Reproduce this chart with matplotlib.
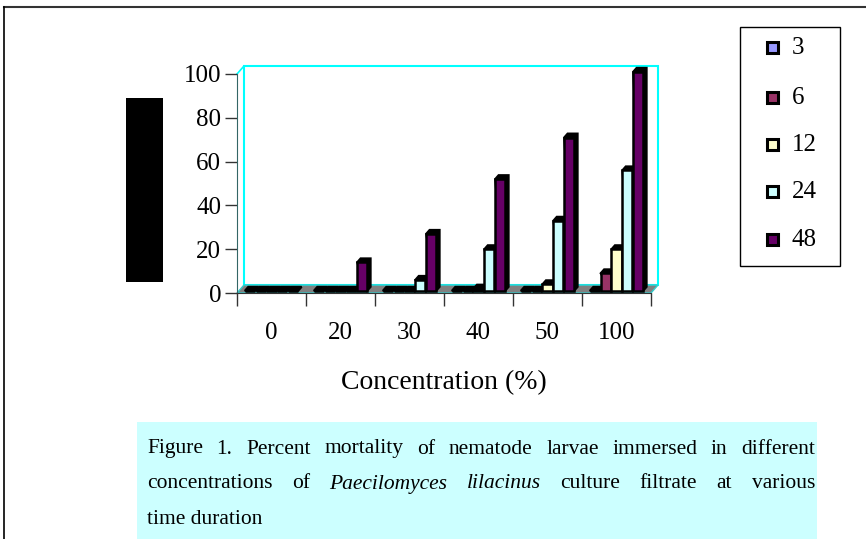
import numpy as np
import matplotlib.pyplot as plt
from matplotlib.patches import Rectangle, Polygon
from matplotlib.lines import Line2D

plt.rcParams['font.family'] = ['Liberation Serif', 'DejaVu Serif']

# data (percent mortality)
concentrations = ["0", "20", "30", "40", "50", "100"]
hours = ["3", "6", "12", "24", "48"]
mort_3h = [0, 0, 0, 0, 0, 0]
mort_6h = [0, 0, 0, 0, 0, 8]
mort_12h = [0, 0, 0, 1, 3, 19]
mort_24h = [0, 0, 5, 19, 32, 55]
mort_48h = [0, 13, 26, 51, 70, 100]
series = [mort_3h, mort_6h, mort_12h, mort_24h, mort_48h]
colors = ["#9999ff", "#993366", "#ffffcc", "#ccffff", "#660066"]

caption_lines = [
    [("Figure", "normal"), ("1.", "normal"), ("Percent", "normal"), ("mortality", "normal"),
     ("of", "normal"), ("nematode", "normal"), ("larvae", "normal"), ("immersed", "normal"),
     ("in", "normal"), ("different", "normal")],
    [("concentrations", "normal"), ("of", "normal"), ("Paecilomyces", "italic"),
     ("lilacinus", "italic"), ("culture", "normal"), ("filtrate", "normal"),
     ("at", "normal"), ("various", "normal")],
]
caption_last = "time duration"

W, H = 866, 539
fig = plt.figure(figsize=(W / 100, H / 100), dpi=100)


def fx(px):
    return px / W


def fy(py):
    return 1 - py / H


# page frame lines
fig.add_artist(Line2D([fx(4), fx(866)], [fy(7), fy(7)], color="#333333", lw=1.5))
fig.add_artist(Line2D([fx(4), fx(4)], [fy(7), fy(539)], color="black", lw=1.2))

# redacted y label block
fig.add_artist(Rectangle((fx(126), fy(282)), fx(163) - fx(126), fy(98) - fy(282),
                         facecolor="black", edgecolor="none"))

ax = fig.add_axes([fx(237), fy(293), fx(651) - fx(237), fy(74) - fy(293)])
ax.set_xlim(0, 6)
ax.set_ylim(0, 100)
ax.patch.set_visible(False)

dx, dy = 0.1, 3.6  # 3d depth of the wall
# back wall and floor
ax.add_patch(Rectangle((dx, dy), 6, 100, facecolor="white", edgecolor="#00ffff",
                       lw=1.5, clip_on=False, zorder=0))
ax.add_patch(Polygon([(0, 0), (6, 0), (6 + dx, dy), (dx, dy)], closed=True,
                     facecolor="#808080", edgecolor="#33cccc", lw=1.0,
                     clip_on=False, zorder=1))
ax.plot([0, dx], [100, 100 + dy], color="#00ffff", lw=1.2, clip_on=False, zorder=1)

x = np.arange(len(concentrations)) + 0.5
bw = 0.145
d, e = 0.05, 1.8
base = 1.0
for k, vals in enumerate(series):
    xs = x + (k - 2) * 0.157
    for xi, v in zip(xs, vals):
        x0, x1 = xi - bw / 2, xi + bw / 2
        top = base + v
        ax.add_patch(Polygon([(x0, top), (x0 + d, top + e), (x1 + d, top + e),
                              (x1 + d, base + e), (x1, base)], closed=True,
                             facecolor="black", edgecolor="black", lw=1.5,
                             clip_on=False, zorder=2 + k))
    ax.bar(xs, vals, width=bw, bottom=base, color=colors[k], edgecolor="black",
           linewidth=1.8, clip_on=False, zorder=2 + k)

for s in ["top", "right"]:
    ax.spines[s].set_visible(False)
ax.spines["left"].set_color("#336666")
ax.spines["bottom"].set_color("#333333")

ax.set_yticks(np.arange(0, 101, 20))
ax.tick_params(axis="y", length=8.5, width=1, color="#333333", labelsize=18, pad=3)
ax.set_xticks(np.arange(0, 7))
ax.set_xticklabels([])
ax.tick_params(axis="x", which="major", length=9, width=1, color="#333333")
ax.set_xticks(x, minor=True)
ax.set_xticklabels(concentrations, minor=True)
ax.tick_params(axis="x", which="minor", length=0, labelsize=18, pad=21)
ax.set_xlabel("Concentration (%)", fontsize=20, labelpad=19)

# legend box
fig.add_artist(Rectangle((fx(740), fy(266)), fx(840) - fx(740), fy(27) - fy(266),
                         facecolor="white", edgecolor="black", lw=1.0))
leg_y = [48, 98, 145, 192, 240]
for lab, c, py in zip(hours, colors, leg_y):
    fig.add_artist(Rectangle((fx(767), fy(py + 5)), fx(11), fy(0) - fy(11),
                             facecolor=c, edgecolor="black", lw=2.2))
    fig.text(fx(792), fy(py), lab, fontsize=18, va="center", ha="left")

# caption
fig.add_artist(Rectangle((fx(137), fy(539)), fx(817) - fx(137), fy(422) - fy(539),
                         facecolor="#ccffff", edgecolor="none"))
cap_fs = 15.5
renderer = fig.canvas.get_renderer()
left_px, right_px = 147, 815
for words, py in zip(caption_lines, [449, 484]):
    texts = [fig.text(0, fy(py), w, fontsize=cap_fs, style=st, va="center", ha="left")
             for w, st in words]
    widths = [t.get_window_extent(renderer).width for t in texts]
    gap = (right_px - left_px - sum(widths)) / (len(texts) - 1)
    cur = left_px
    for t, wd in zip(texts, widths):
        t.set_x(fx(cur))
        cur += wd + gap
fig.text(fx(147), fy(519), caption_last, fontsize=cap_fs, va="center", ha="left")

fig.savefig("out.png", dpi=100)
